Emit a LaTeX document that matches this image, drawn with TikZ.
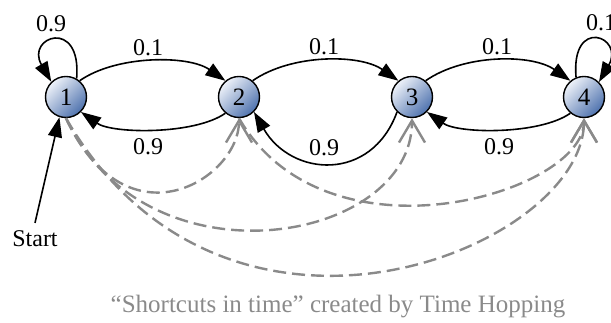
\documentclass[tikz,border=0pt]{standalone}
\usepackage{fontspec}
\setmainfont{Liberation Serif}
\usetikzlibrary{arrows.meta}
\definecolor{nodelight}{HTML}{EEF2F9}
\definecolor{nodedark}{HTML}{4E72AE}
\definecolor{hopgray}{HTML}{8A8A8A}
\begin{document}
\begin{tikzpicture}[x=1pt,y=1pt,
  state/.style={circle, draw=black, line width=1.4pt, minimum size=41pt,
    inner sep=0pt, top color=nodelight, bottom color=nodedark,
    shading angle=45, font=\fontsize{25}{25}\selectfont},
  trans/.style={draw=black, line width=1.6pt,
    -{Triangle[length=20pt,width=14pt]}},
  hop/.style={draw=hopgray, line width=2.4pt, dash pattern=on 13pt off 6pt,
    -{Straight Barb[length=22pt,width=26pt]}},
  prob/.style={font=\fontsize{24}{24}\selectfont, inner sep=0pt}]
\useasboundingbox (0,0) rectangle (611,323);

% states
\node[state] (n1) at (66,226) {1};
\node[state] (n2) at (239,226) {2};
\node[state] (n3) at (412,226) {3};
\node[state] (n4) at (584,226) {4};

% transition probabilities
\draw[trans] (n1.60) .. controls +(85:62) and +(120:52) .. (n1.134);
\draw[trans] (n1.50) .. controls +(35:45) and +(145:45) .. (n2.130);
\draw[trans] (n2.230) .. controls +(-145:38) and +(-35:38) .. (n1.315);
\draw[trans] (n2.50) .. controls +(35:47) and +(145:47) .. (n3.130);
\draw[trans] (n3.225) .. controls +(-110:75) and +(-60:75) .. (n2.315);
\draw[trans] (n3.50) .. controls +(35:47) and +(145:47) .. (n4.130);
\draw[trans] (n4.230) .. controls +(-145:38) and +(-35:38) .. (n3.315);
\draw[trans] (n4.112) .. controls +(95:62) and +(60:52) .. (n4.45);

\node[prob] (p11) at (51,299) {0.9};
\node[prob] (p12) at (148,275) {0.1};
\node[prob] (p21) at (148,176) {0.9};
\node[prob] (p23) at (324,276) {0.1};
\node[prob] (p32) at (324,175) {0.9};
\node[prob] (p34) at (497,276) {0.1};
\node[prob] (p43) at (499,176) {0.9};
\node[prob] (p44) at (601,300) {0.1};

% initial state
\node[prob, anchor=base] (start) at (35,76) {Start};
\draw[trans] ([yshift=8pt]start.north) -- (n1.252);

% shortcuts
\draw[hop] (n1.south) .. controls +(-65:145) and +(-90:60) .. (n2.south);
\draw[hop] (n1.south) .. controls +(-65:190) and +(-90:125) .. (n3.south);
\draw[hop] (n1.south) .. controls +(-60:320) and +(-90:130) .. (n4.south);
\draw[hop] (n2.south) .. controls +(-60:175) and +(-90:75) .. (n4.south);

\node[font=\fontsize{25}{25}\selectfont, text=hopgray, inner sep=0pt] (caption)
  at (338,16) {“Shortcuts in time” created by Time Hopping};
\end{tikzpicture}
\end{document}
